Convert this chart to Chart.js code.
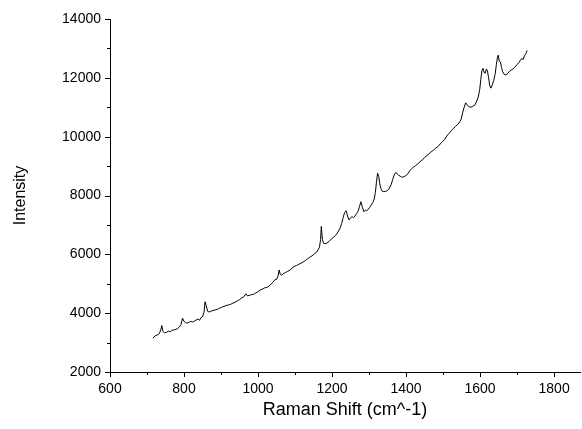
<!DOCTYPE html>
<html>
<head>
<meta charset="utf-8">
<title>Raman spectrum</title>
<script src="https://cdn.jsdelivr.net/npm/chart.js@4.4.1/dist/chart.umd.min.js"></script>
<style>
  html, body { margin: 0; padding: 0; background: #fff; }
  #grafica { display: block; }
</style>
</head>
<body>
<canvas id="grafica" width="582" height="429"></canvas>
<script>
// Raman shift (cm^-1) and measured intensity
const shift = [
    716, 722, 728, 733, 737, 740, 743, 748, 753, 758, 763, 768, 773, 778, 783, 788, 792, 796, 800, 804,
    808, 813, 818, 823, 828, 833, 838, 842, 846, 850, 854, 857, 860, 864, 868, 873, 878, 884, 890, 896,
    902, 908, 914, 920, 926, 932, 938, 944, 950, 956, 962, 967, 971, 976, 982, 988, 994, 1000, 1006, 1012,
    1018, 1024, 1030, 1036, 1041, 1046, 1050, 1054, 1057, 1060, 1064, 1068, 1074, 1080, 1086, 1092, 1098, 1104, 1110, 1116,
    1122, 1128, 1134, 1140, 1146, 1152, 1158, 1162, 1166, 1169, 1171, 1174, 1177, 1181, 1186, 1192, 1198, 1204, 1210, 1216,
    1222, 1226, 1230, 1234, 1238, 1242, 1246, 1250, 1254, 1258, 1262, 1266, 1270, 1274, 1278, 1282, 1286, 1290, 1294, 1298,
    1302, 1306, 1310, 1314, 1317, 1320, 1323, 1326, 1329, 1332, 1336, 1340, 1345, 1350, 1355, 1360, 1364, 1368, 1372, 1376,
    1380, 1385, 1390, 1395, 1400, 1405, 1410, 1415, 1420, 1426, 1432, 1438, 1444, 1450, 1456, 1462, 1468, 1474, 1480, 1486,
    1492, 1498, 1504, 1510, 1516, 1522, 1528, 1534, 1540, 1545, 1549, 1553, 1557, 1561, 1565, 1570, 1575, 1580, 1585, 1590,
    1595, 1599, 1602, 1605, 1608, 1611, 1614, 1617, 1620, 1623, 1626, 1629, 1633, 1637, 1641, 1644, 1647, 1649, 1652, 1655,
    1658, 1661, 1665, 1670, 1675, 1680, 1685, 1690, 1695, 1700, 1705, 1709, 1713, 1716, 1720, 1724, 1727
];
const intensity = [
    3150, 3230, 3260, 3300, 3420, 3580, 3380, 3330, 3350, 3390, 3370, 3420, 3430, 3450, 3480, 3540, 3620, 3830, 3720, 3680,
    3660, 3690, 3720, 3700, 3730, 3770, 3800, 3760, 3850, 3880, 4030, 4390, 4250, 4060, 4040, 4070, 4090, 4110, 4130, 4170,
    4200, 4230, 4260, 4280, 4300, 4340, 4370, 4420, 4460, 4520, 4560, 4660, 4590, 4600, 4630, 4640, 4690, 4730, 4790, 4820,
    4860, 4880, 4920, 5000, 5060, 5140, 5150, 5260, 5470, 5320, 5290, 5340, 5380, 5420, 5460, 5530, 5590, 5620, 5660, 5700,
    5740, 5790, 5850, 5900, 5950, 6010, 6070, 6150, 6240, 6500, 6950, 6500, 6380, 6360, 6380, 6440, 6520, 6580, 6650, 6760,
    6900, 7050, 7250, 7420, 7480, 7300, 7170, 7240, 7280, 7250, 7300, 7380, 7450, 7620, 7790, 7600, 7450, 7500, 7480, 7540,
    7600, 7680, 7760, 7880, 8100, 8450, 8760, 8650, 8400, 8230, 8140, 8130, 8140, 8170, 8250, 8380, 8550, 8700, 8780, 8740,
    8690, 8650, 8620, 8640, 8680, 8740, 8840, 8910, 8960, 9020, 9080, 9150, 9210, 9290, 9350, 9420, 9490, 9540, 9610, 9660,
    9750, 9820, 9900, 10020, 10110, 10200, 10280, 10350, 10420, 10500, 10600, 10820, 11000, 11150, 11080, 11020, 11000, 11030, 11060, 11180,
    11350, 11600, 11950, 12250, 12320, 12180, 12160, 12300, 12240, 12000, 11750, 11650, 11760, 11920, 12150, 12450, 12700, 12770, 12560, 12540,
    12350, 12210, 12120, 12100, 12150, 12230, 12270, 12310, 12380, 12450, 12520, 12600, 12660, 12620, 12750, 12820, 12930
];

const ejeX = { min: 600, max: 1870, paso: 100, etiqueta: 200 };
const ejeY = { min: 2000, max: 14000, paso: 1000, etiqueta: 2000 };

const fuente = '"Liberation Sans", Arial, sans-serif';

// ticks hacia fuera, los mayores más largos
const marcasEjes = {
    id: 'marcasEjes',
    afterDraw(chart) {
        const ctx = chart.ctx;
        const x = chart.scales.x;
        const y = chart.scales.y;
        ctx.save();
        ctx.strokeStyle = '#000';
        ctx.lineWidth = 1;
        ctx.beginPath();
        x.ticks.forEach(t => {
            const px = Math.round(x.getPixelForValue(t.value)) + 0.5;
            const largo = t.value % ejeX.etiqueta === 0 ? 5 : 3;
            ctx.moveTo(px, x.top);
            ctx.lineTo(px, x.top + largo);
        });
        y.ticks.forEach(t => {
            const py = Math.round(y.getPixelForValue(t.value)) + 0.5;
            const largo = t.value % ejeY.etiqueta === 0 ? 5 : 3;
            ctx.moveTo(y.right, py);
            ctx.lineTo(y.right - largo, py);
        });
        ctx.stroke();
        ctx.restore();
    }
};

const puntos = shift.map((s, i) => ({ x: s, y: intensity[i] }));

new Chart(document.getElementById('grafica').getContext('2d'), {
    type: 'line',
    data: {
        datasets: [{
            label: 'Intensity',
            data: puntos,
            borderColor: '#000',
            borderWidth: 1,
            pointRadius: 0,
            tension: 0,
            fill: false
        }]
    },
    options: {
        responsive: false,
        animation: false,
        layout: { padding: { left: 0, top: 19, right: 2, bottom: 0 } },
        plugins: {
            legend: { display: false },
            tooltip: { enabled: false }
        },
        scales: {
            x: {
                type: 'linear',
                min: ejeX.min,
                max: ejeX.max,
                afterBuildTicks: scale => {
                    scale.ticks = scale.ticks.filter(t => t.value % ejeX.paso === 0);
                },
                afterFit: scale => { scale.height = 57; },
                grid: { display: false, drawTicks: false },
                border: { display: true, color: '#000', width: 1 },
                ticks: {
                    stepSize: ejeX.paso,
                    includeBounds: false,
                    autoSkip: false,
                    maxRotation: 0,
                    padding: 9,
                    color: '#000',
                    font: { family: fuente, size: 14 },
                    callback: v => (v % ejeX.etiqueta === 0 ? String(v) : '')
                },
                title: {
                    display: true,
                    text: 'Raman Shift (cm^-1)',
                    color: '#000',
                    font: { family: fuente, size: 18 },
                    padding: { top: 4, bottom: 8 }
                }
            },
            y: {
                type: 'linear',
                min: ejeY.min,
                max: ejeY.max,
                afterFit: scale => { scale.width = 110; },
                grid: { display: false, drawTicks: false },
                border: { display: true, color: '#000', width: 1 },
                ticks: {
                    stepSize: ejeY.paso,
                    includeBounds: false,
                    autoSkip: false,
                    padding: 9,
                    color: '#000',
                    font: { family: fuente, size: 14 },
                    callback: v => (v % ejeY.etiqueta === 0 ? String(v) : '')
                },
                title: {
                    display: true,
                    text: 'Intensity',
                    color: '#000',
                    font: { family: fuente, size: 16 },
                    padding: { top: 11, bottom: 0 }
                }
            }
        }
    },
    plugins: [marcasEjes]
});
</script>
</body>
</html>
